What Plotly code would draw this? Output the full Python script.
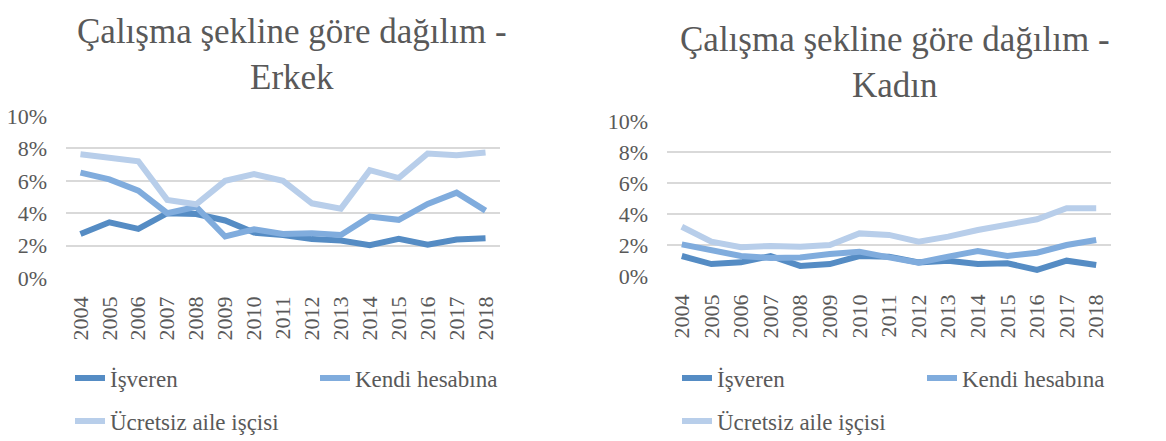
import plotly.graph_objects as go

years = [str(y) for y in range(2004, 2019)]

erkek_isveren = [2.72, 3.44, 3.03, 4.0, 3.95, 3.55, 2.8, 2.66, 2.4, 2.32, 2.03, 2.42, 2.05, 2.38, 2.46]
erkek_kendi = [6.5, 6.09, 5.39, 4.0, 4.4, 2.56, 3.01, 2.72, 2.77, 2.66, 3.79, 3.59, 4.57, 5.27, 4.16]
erkek_ucretsiz = [7.64, 7.44, 7.21, 4.82, 4.55, 6.0, 6.41, 6.0, 4.61, 4.28, 6.66, 6.17, 7.68, 7.58, 7.75]

kadin_isveren = [1.29, 0.77, 0.88, 1.29, 0.65, 0.77, 1.29, 1.25, 0.88, 0.99, 0.77, 0.82, 0.39, 0.99, 0.71]
kadin_kendi = [2.04, 1.68, 1.29, 1.16, 1.2, 1.42, 1.57, 1.2, 0.86, 1.25, 1.61, 1.29, 1.5, 2.0, 2.32]
kadin_ucretsiz = [3.18, 2.22, 1.85, 1.94, 1.89, 2.0, 2.75, 2.65, 2.22, 2.54, 2.97, 3.29, 3.66, 4.37, 4.37]

series_names = ["İşveren", "Kendi hesabına", "Ücretsiz aile işçisi"]
colors = ["#558CC4", "#80ACDD", "#B8CEEA"]
titles = ["Çalışma şekline göre dağılım -<br>Erkek", "Çalışma şekline göre dağılım -<br>Kadın"]

FONT = "Liberation Serif"
TXT = "#595959"
OFF = 8               # calibration shift
W, H = 1166, 441

fig = go.Figure()

panels = [
    (erkek_isveren, erkek_kendi, erkek_ucretsiz),
    (kadin_isveren, kadin_kendi, kadin_ucretsiz),
]
legend_map = [["legend", "legend", "legend3"], ["legend2", "legend2", "legend4"]]
for p, data in enumerate(panels):
    xa = "x" if p == 0 else "x2"
    ya = "y" if p == 0 else "y2"
    for i, vals in enumerate(data):
        fig.add_trace(go.Scatter(
            x=years, y=[v / 100 for v in vals], mode="lines", name=series_names[i],
            line=dict(color=colors[i], width=6), xaxis=xa, yaxis=ya,
            legend=legend_map[p][i], hoverinfo="skip",
        ))

def px_x(v):
    return (v - OFF) / W

def px_y(v):
    return 1 - (v - OFF) / H

axis_common = dict(showline=False, zeroline=False, fixedrange=True, automargin=False)
tickfont = dict(family=FONT, size=22, color=TXT)
fig.update_layout(
    width=W, height=H, margin=dict(l=0, r=0, t=0, b=0, autoexpand=False),
    paper_bgcolor="white", plot_bgcolor="white",
    font=dict(family=FONT, color=TXT, size=22),
    xaxis=dict(domain=[px_x(66), px_x(500)], anchor="y", type="category",
               range=[-0.5, 14.5], tickangle=-90, showgrid=False,
               ticklabelstandoff=13, tickfont=tickfont, **axis_common),
    yaxis=dict(domain=[px_y(278), px_y(116)], anchor="x", range=[0, 0.10], dtick=0.02,
               tickformat=".0%", gridcolor="#D9D9D9", gridwidth=1.5,
               ticklabelstandoff=18, tickfont=tickfont, **axis_common),
    xaxis2=dict(domain=[px_x(667), px_x(1111)], anchor="y2", type="category",
                range=[-0.5, 14.5], tickangle=-90, showgrid=False,
                ticklabelstandoff=13, tickfont=tickfont, **axis_common),
    yaxis2=dict(domain=[px_y(276), px_y(121)], anchor="x2", range=[0, 0.10], dtick=0.02,
                tickformat=".0%", gridcolor="#D9D9D9", gridwidth=1.5,
                ticklabelstandoff=18, tickfont=tickfont, **axis_common),
)

leg_common = dict(orientation="h", xanchor="left", yanchor="middle",
                  font=dict(family=FONT, size=23, color=TXT),
                  entrywidth=200, entrywidthmode="pixels", bgcolor="rgba(0,0,0,0)",
                  itemclick=False, itemdoubleclick=False)
fig.update_layout(
    legend=dict(x=px_x(70), y=px_y(378), **leg_common),
    legend2=dict(x=px_x(677), y=px_y(378), **leg_common),
    legend3=dict(x=px_x(70), y=px_y(421), **leg_common),
    legend4=dict(x=px_x(677), y=px_y(421), **leg_common),
)

fig.add_annotation(text=titles[0], x=px_x(292), y=px_y(55), xref="paper", yref="paper",
                   showarrow=False, font=dict(family=FONT, size=35, color=TXT),
                   xanchor="center", yanchor="middle")
fig.add_annotation(text=titles[1], x=px_x(895), y=px_y(62), xref="paper", yref="paper",
                   showarrow=False, font=dict(family=FONT, size=35, color=TXT),
                   xanchor="center", yanchor="middle")

fig.write_html("out.html")
